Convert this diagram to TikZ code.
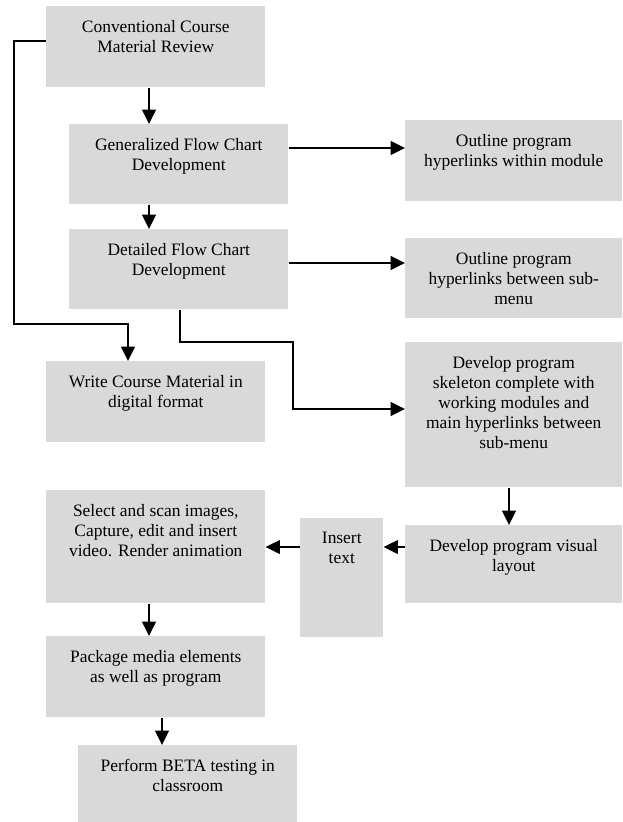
\documentclass[tikz,border=0pt]{standalone}
\usepackage{fontspec}
\setmainfont{Liberation Serif}
\usetikzlibrary{arrows.meta,calc,positioning}

\definecolor{boxgray}{RGB}{217,217,217}
\newcommand{\pxu}{0.7pt}

\tikzset{
  stepbox/.style={fill=boxgray, inner sep=0pt, anchor=north west},
  steptext/.style={anchor=north, inner sep=0pt, yshift=-10pt, align=center,
    font=\fontsize{12.2}{14}\selectfont},
  flow/.style={-{Triangle[length=10pt,width=9.5pt]}, line width=1.3pt}
}

\begin{document}
\begin{tikzpicture}[x=0.7pt,y=-0.7pt]
    \useasboundingbox (0,0) rectangle (623,822);

    % left column
    \node[stepbox, minimum width=219*\pxu, minimum height=81*\pxu,
      label={[steptext]north:Conventional Course\\Material Review}] (review) at (46,6) {};
    \node[stepbox, minimum width=219*\pxu, minimum height=80*\pxu,
      label={[steptext]north:Generalized Flow Chart\\Development}] (general) at (69,124) {};
    \node[stepbox, minimum width=219*\pxu, minimum height=80*\pxu,
      label={[steptext]north:Detailed Flow Chart\\Development}] (detail) at (69,229) {};
    \node[stepbox, minimum width=219*\pxu, minimum height=81*\pxu,
      label={[steptext]north:Write Course Material in\\digital format}] (write) at (46,361) {};
    \node[stepbox, minimum width=219*\pxu, minimum height=113*\pxu,
      label={[steptext]north:Select and scan images,\\Capture, edit and insert\\video. Render animation}] (select) at (46,490) {};
    \node[stepbox, minimum width=219*\pxu, minimum height=81*\pxu,
      label={[steptext]north:Package media elements\\as well as program}] (package) at (46,636) {};
    \node[stepbox, minimum width=219*\pxu, minimum height=77*\pxu,
      label={[steptext]north:Perform BETA testing in\\classroom}] (beta) at (78,745) {};

    % right column
    \node[stepbox, minimum width=217*\pxu, minimum height=81*\pxu,
      label={[steptext]north:Outline program\\hyperlinks within module}] (within) at (405,120) {};
    \node[stepbox, minimum width=217*\pxu, minimum height=80*\pxu,
      label={[steptext]north:Outline program\\hyperlinks between sub-\\menu}] (between) at (405,238) {};
    \node[stepbox, minimum width=217*\pxu, minimum height=145*\pxu,
      label={[steptext]north:Develop program\\skeleton complete with\\working modules and\\main hyperlinks between\\sub-menu}] (skeleton) at (405,342) {};
    \node[stepbox, minimum width=217*\pxu, minimum height=78*\pxu,
      label={[steptext]north:Develop program visual\\layout}] (visual) at (405,525) {};
    \node[stepbox, minimum width=83*\pxu, minimum height=119*\pxu,
      label={[steptext]north:Insert\\text}] (insert) at (300,518) {};

    % connectors
    \draw[flow] (review.south -| 149,0) -- (general.north -| 149,0);
    \draw[flow] (general.south -| 149,0) -- (detail.north -| 149,0);
    \draw[flow] (review.west |- 0,41) -- (14,41) -- (14,324) -| (write.north -| 128,0);
    \draw[flow] (general.east |- 0,148) -- (within.west |- 0,148);
    \draw[flow] (detail.east |- 0,263) -- (between.west |- 0,263);
    \draw[flow] (detail.south -| 180,0) -- (180,342) -| (293,409) -- (skeleton.west |- 0,409);
    \draw[flow] (skeleton.south -| 509,0) -- (visual.north -| 509,0);
    \draw[flow] (visual.west |- 0,547) -- (insert.east |- 0,547);
    \draw[flow] (insert.west |- 0,547) -- (select.east |- 0,547);
    \draw[flow] (select.south -| 149,0) -- (package.north -| 149,0);
    \draw[flow] (package.south -| 162,0) -- (beta.north -| 162,0);
\end{tikzpicture}
\end{document}
